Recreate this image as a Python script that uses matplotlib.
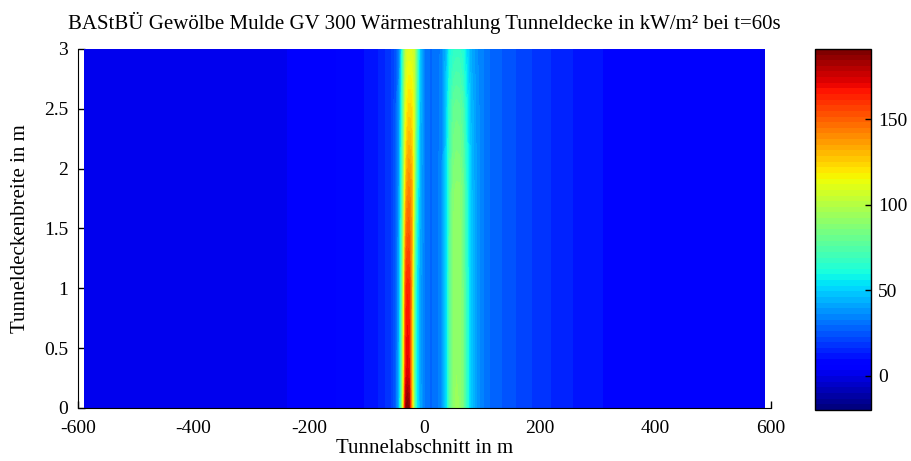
import numpy as np
import matplotlib
matplotlib.use('Agg')
import matplotlib.pyplot as plt
from matplotlib.colors import Normalize
import matplotlib.cm as cm

# ---- data ----
x_m = [-590, -450, -320, -240, -160, -110, -80, -60, -50, -44, -40, -36, -33, -30,
       -27, -24, -21, -18, -14, -8, 0, 10, 20, 30, 38, 44, 50, 55, 60, 66, 72, 80,
       92, 110, 140, 180, 240, 320, 400, 480, 590]
y_m = [0.0, 0.3, 1.0, 1.8, 2.5, 3.0]

row_y00 = [0, 0, 1, 3, 6, 9, 13, 18, 26, 45, 75, 125, 180, 192, 186, 150, 118, 85, 58, 42,
           33, 29, 30, 36, 52, 76, 90, 93, 92, 84, 67, 48, 37, 30, 25, 20, 14, 9, 6, 4, 3]
row_y03 = [0, 0, 1, 3, 6, 9, 13, 18, 26, 44, 72, 115, 162, 173, 170, 145, 115, 82, 56, 41,
           33, 29, 30, 36, 52, 76, 90, 92, 92, 84, 67, 48, 37, 30, 25, 20, 14, 9, 6, 4, 3]
row_y10 = [0, 0, 1, 3, 6, 9, 13, 18, 26, 42, 68, 108, 152, 164, 163, 148, 118, 84, 57, 41,
           33, 29, 30, 36, 52, 76, 90, 92, 92, 84, 67, 48, 37, 30, 25, 20, 14, 9, 6, 4, 3]
row_y18 = [0, 0, 1, 3, 6, 9, 13, 18, 26, 40, 62, 95, 125, 139, 143, 140, 128, 100, 65, 44,
           33, 29, 30, 36, 52, 75, 88, 90, 90, 83, 66, 48, 37, 30, 25, 20, 14, 9, 6, 4, 3]
row_y25 = [0, 0, 1, 3, 6, 9, 13, 18, 25, 38, 58, 85, 110, 119, 123, 123, 118, 105, 75, 46,
           33, 29, 30, 35, 50, 68, 79, 81, 80, 75, 60, 46, 37, 30, 25, 20, 14, 9, 6, 4, 3]
row_y30 = [0, 0, 1, 3, 6, 9, 13, 18, 24, 35, 52, 80, 100, 107, 109, 109, 107, 102, 80, 48,
           33, 29, 30, 34, 46, 60, 65, 67, 67, 63, 54, 43, 36, 30, 25, 20, 14, 9, 6, 4, 3]

x_ticks = [-600, -400, -200, 0, 200, 400, 600]
y_ticks = [0, 0.5, 1, 1.5, 2, 2.5, 3]
y_tick_labels = ['0', '0.5', '1', '1.5', '2', '2.5', '3']
cb_ticks = [0, 50, 100, 150]

title = "BAStBÜ Gewölbe Mulde GV 300 Wärmestrahlung Tunneldecke in kW/m² bei t=60s"
xlabel = "Tunnelabschnitt in m"
ylabel = "Tunneldeckenbreite in m"

# ---- figure ----
plt.rcParams['font.family'] = ['Liberation Serif', 'DejaVu Serif']
fig = plt.figure(figsize=(9.12, 4.61), dpi=100)
ax = fig.add_axes([0.0855, 0.115, 0.760, 0.779])

Z = np.array([row_y00, row_y03, row_y10, row_y18, row_y25, row_y30], dtype=float)
X, Y = np.meshgrid(np.array(x_m, float), np.array(y_m, float))

vmin, vmax = -20, 191
jet64 = plt.get_cmap('jet', 64)
levels = np.linspace(vmin, vmax, 65)
ax.contourf(X, Y, Z, levels=levels, cmap=jet64, vmin=vmin, vmax=vmax, antialiased=False)

ax.set_xlim(-600, 600)
ax.set_ylim(0, 3)
ax.set_xticks(x_ticks)
ax.set_xticklabels([str(t) for t in x_ticks])
ax.set_yticks(y_ticks)
ax.set_yticklabels(y_tick_labels)
ax.spines['top'].set_visible(False)
ax.spines['right'].set_visible(False)
ax.set_axisbelow(True)
ax.tick_params(direction='in', length=5, labelsize=14, width=1)
ax.tick_params(axis='x', pad=9)
ax.tick_params(axis='y', pad=7)
ax.set_xlabel(xlabel, fontsize=15, labelpad=1)
ax.set_ylabel(ylabel, fontsize=15, labelpad=10)
ax.set_title(title, fontsize=15, pad=14)

cax = fig.add_axes([0.894, 0.111, 0.061, 0.783])
sm = cm.ScalarMappable(norm=Normalize(vmin, vmax), cmap=jet64)
cb = fig.colorbar(sm, cax=cax, ticks=cb_ticks)
cb.ax.tick_params(direction='in', length=4, labelsize=14, width=1, pad=5)
cb.outline.set_linewidth(1)

fig.savefig('out.png', dpi=100)
